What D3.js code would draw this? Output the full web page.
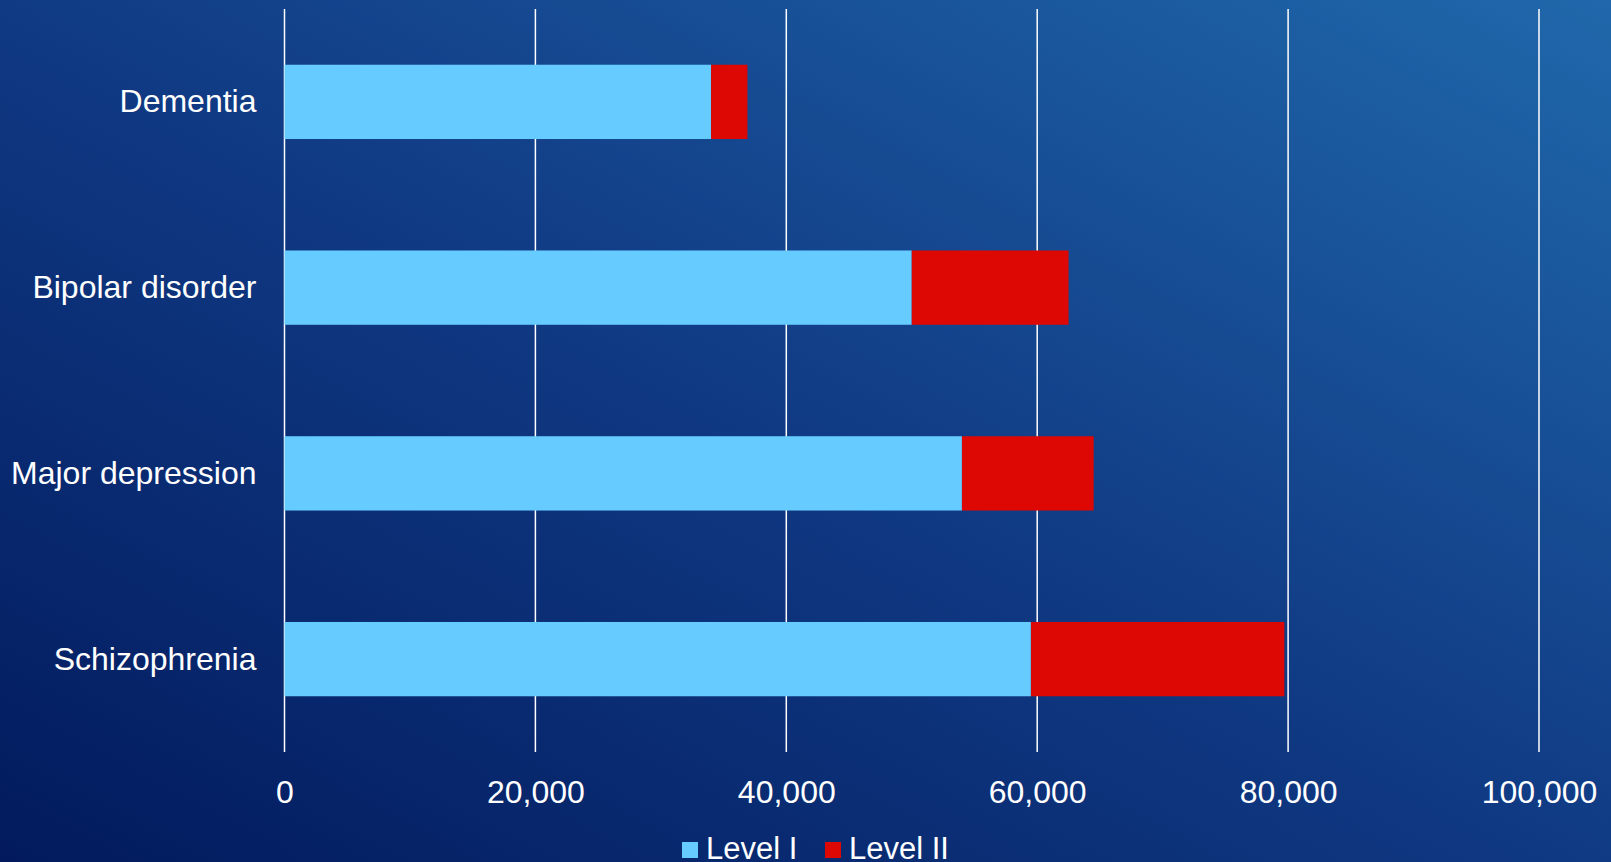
<!DOCTYPE html>
<html>
<head>
<meta charset="utf-8">
<script src="https://cdn.jsdelivr.net/npm/d3@7"></script>
<style>
  html, body { margin: 0; padding: 0; overflow: hidden; }
  body { width: 1611px; height: 862px; }
  text { font-family: "Liberation Sans", Arial, sans-serif; }
</style>
</head>
<body>
<div id="viz"></div>
<script>
const width = 1611;
const height = 862;
const margin = {top: 9, right: 72, bottom: 110, left: 284.5};

const categories = ['Dementia', 'Bipolar disorder', 'Major depression', 'Schizophrenia'];
const levelOne = [34000, 50000, 54000, 59500];
const levelTwo = [2900, 12500, 10500, 20200];
const xTicks = [0, 20000, 40000, 60000, 80000, 100000];

const groups = [
  { id: 'one', label: 'Level I', color: '#66ccff' },
  { id: 'two', label: 'Level II', color: '#dd0804' },
];

const data = categories.map((c, i) => ({ name: c, one: levelOne[i], two: levelTwo[i] }));

const svg = d3.select('#viz')
  .append('svg')
  .attr('width', width)
  .attr('height', height);

// background gradient, dark bottom-left to lighter top-right
const defs = svg.append('defs');
const grad = defs.append('linearGradient')
  .attr('id', 'bg')
  .attr('x1', '0%').attr('y1', '100%')
  .attr('x2', '100%').attr('y2', '0%');
grad.append('stop').attr('offset', '0%').attr('stop-color', '#021a5d');
grad.append('stop').attr('offset', '50%').attr('stop-color', '#103a84');
grad.append('stop').attr('offset', '100%').attr('stop-color', '#2068ab');

svg.append('rect')
  .attr('width', width)
  .attr('height', height)
  .attr('fill', 'url(#bg)');

const xscale = d3.scaleLinear()
  .domain([0, 100000])
  .range([margin.left, width - margin.right]);

const yscale = d3.scaleBand()
  .domain(categories)
  .range([margin.top, height - margin.bottom])
  .paddingInner(0.6)
  .paddingOuter(0.3);

// grid lines
svg.append('g')
  .selectAll('line')
  .data(xTicks)
  .join('line')
    .attr('x1', d => xscale(d))
    .attr('x2', d => xscale(d))
    .attr('y1', margin.top)
    .attr('y2', height - margin.bottom)
    .attr('stroke', '#ffffff')
    .attr('stroke-width', 1.5);

// stacked bars
const stack = d3.stack().keys(['one', 'two']);
const series = stack(data);
const color = d3.scaleOrdinal()
  .domain(groups.map(g => g.id))
  .range(groups.map(g => g.color));

svg.append('g')
  .selectAll('g')
  .data(series)
  .join('g')
    .attr('fill', d => color(d.key))
  .selectAll('rect')
  .data(d => d)
  .join('rect')
    .attr('x', d => xscale(d[0]))
    .attr('y', d => yscale(d.data.name))
    .attr('width', d => xscale(d[1]) - xscale(d[0]))
    .attr('height', yscale.bandwidth());

// x axis labels
const x_axis = d3.axisBottom(xscale)
  .tickValues(xTicks)
  .tickFormat(d3.format(','))
  .tickSize(0)
  .tickPadding(0);

const xg = svg.append('g')
  .attr('transform', 'translate(0,' + (height - margin.bottom) + ')')
  .call(x_axis);
xg.select('.domain').remove();
xg.selectAll('text')
  .attr('y', 0)
  .attr('dy', '1.6em')
  .attr('fill', '#ffffff')
  .style('font-size', '32px')
  .style('font-family', '"Liberation Sans", Arial, sans-serif');

// y axis labels
const y_axis = d3.axisLeft(yscale).tickSize(0).tickPadding(28);
const yg = svg.append('g')
  .attr('transform', 'translate(' + margin.left + ',0)')
  .call(y_axis);
yg.select('.domain').remove();
yg.selectAll('text')
  .attr('fill', '#ffffff')
  .attr('dy', '0.33em')
  .style('font-size', '32px')
  .style('font-family', '"Liberation Sans", Arial, sans-serif');

// legend
const legendX = [682, 825];
const legend = svg.append('g');
legend.selectAll('rect')
  .data(groups)
  .join('rect')
    .attr('x', (d, i) => legendX[i])
    .attr('y', 842)
    .attr('width', 16)
    .attr('height', 16)
    .attr('fill', d => d.color);
legend.selectAll('text')
  .data(groups)
  .join('text')
    .attr('x', (d, i) => legendX[i] + 24)
    .attr('y', 859)
    .attr('fill', '#ffffff')
    .style('font-size', '31px')
    .text(d => d.label);
</script>
</body>
</html>
